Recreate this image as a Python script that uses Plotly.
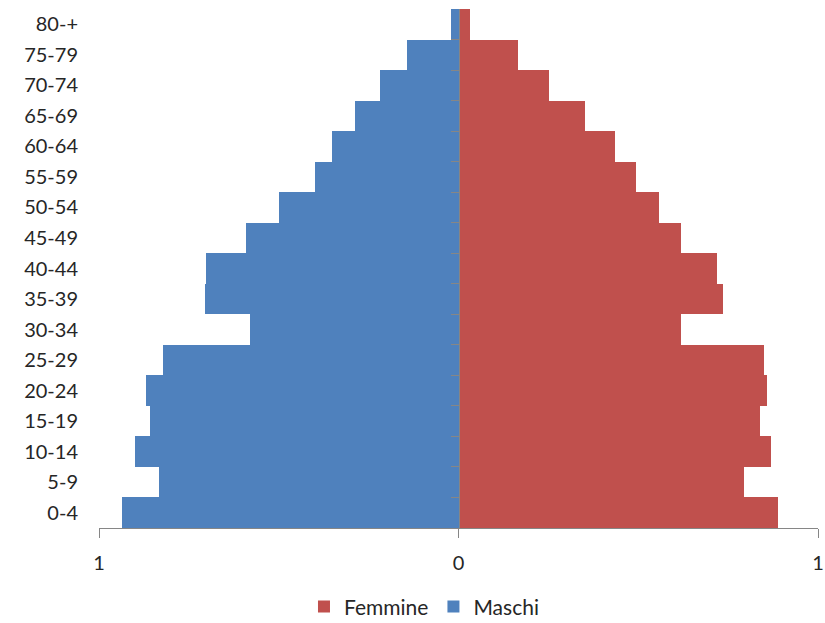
import plotly.graph_objects as go

# Age classes, youngest first (plotted bottom to top)
age_groups = ["0-4", "5-9", "10-14", "15-19", "20-24", "25-29", "30-34", "35-39",
              "40-44", "45-49", "50-54", "55-59", "60-64", "65-69", "70-74", "75-79", "80-+"]
maschi = [0.935, 0.834, 0.901, 0.857, 0.868, 0.823, 0.581, 0.704,
          0.701, 0.592, 0.498, 0.398, 0.353, 0.289, 0.217, 0.142, 0.022]
femmine = [0.888, 0.794, 0.870, 0.840, 0.857, 0.851, 0.620, 0.737,
           0.718, 0.620, 0.559, 0.495, 0.434, 0.353, 0.253, 0.165, 0.031]
x_tick_vals = [-1, 0, 1]
x_tick_text = ["1", "0", "1"]

BLUE = "#4F81BD"
RED = "#C0504D"
AXIS = "#868686"
TEXT = "#262626"
FONT = "Lato"

fig = go.Figure()
fig.add_trace(go.Bar(
    y=age_groups, x=femmine, orientation="h", name="Femmine",
    marker=dict(color=RED, line=dict(width=0)),
))
fig.add_trace(go.Bar(
    y=age_groups, x=[-v for v in maschi], orientation="h", name="Maschi",
    marker=dict(color=BLUE, line=dict(width=0)),
))

# invisible helper trace so the central axis gets drawn
fig.add_trace(go.Scatter(x=[0], y=[0], yaxis="y2", mode="markers",
                         marker=dict(opacity=0), showlegend=False, hoverinfo="skip"))

fig.update_layout(
    width=825, height=623,
    margin=dict(l=99, r=7, t=9, b=95, autoexpand=False),
    paper_bgcolor="white", plot_bgcolor="white",
    barmode="overlay", bargap=0,
    font=dict(family=FONT, size=20, color=TEXT),
    xaxis=dict(
        range=[-1, 1], tickvals=x_tick_vals, ticktext=x_tick_text,
        showgrid=False, zeroline=False,
        showline=True, linecolor=AXIS, linewidth=1,
        ticks="outside", ticklen=9, tickcolor=AXIS, tickwidth=1,
        ticklabelstandoff=8, fixedrange=True,
    ),
    yaxis=dict(
        type="category", categoryorder="array", categoryarray=age_groups,
        range=[-0.5, len(age_groups) - 0.5],
        showgrid=False, zeroline=False, showline=False, ticks="",
        ticklabelstandoff=20,
    ),
    yaxis2=dict(
        overlaying="y", anchor="free", position=0.5,
        range=[-0.5, len(age_groups) - 0.5],
        tickvals=[i + 0.5 for i in range(len(age_groups) - 1)],
        showticklabels=False, showgrid=False, zeroline=False,
        showline=True, linecolor=AXIS, linewidth=1,
        ticks="outside", ticklen=8, tickcolor=AXIS, tickwidth=1,
    ),
    legend=dict(
        orientation="h", x=0.452, xanchor="center", y=-0.152, yanchor="middle",
        font=dict(family=FONT, size=21, color=TEXT), traceorder="normal",
        itemwidth=30,
    ),
    showlegend=True,
)

fig.write_html("out.html")
